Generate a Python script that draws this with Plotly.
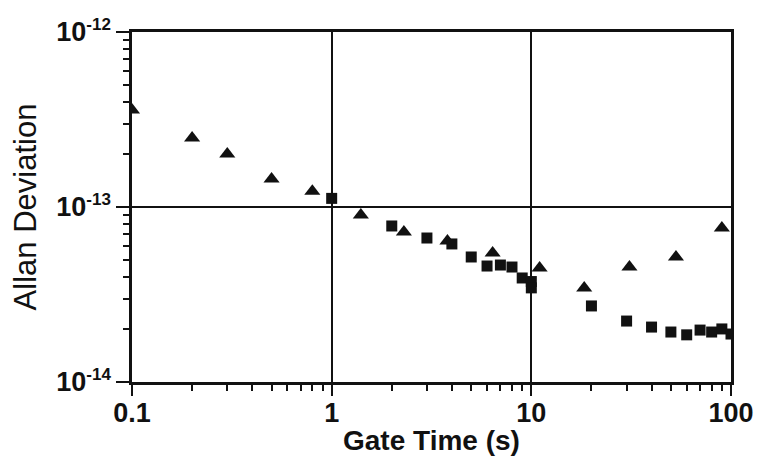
import plotly.graph_objects as go

# Triangle series
tri_x = [0.1, 0.2, 0.3, 0.5, 0.8, 1.4, 2.3, 3.8, 6.4, 11, 18.4, 31, 53, 90]
tri_y = [3.58e-13, 2.48e-13, 2.01e-13, 1.445e-13, 1.23e-13, 9.0e-14, 7.2e-14,
         6.4e-14, 5.46e-14, 4.48e-14, 3.44e-14, 4.54e-14, 5.18e-14, 7.59e-14]

# Square series
sq_x = [1, 2, 3, 4, 5, 6, 7, 8, 9, 10, 10, 20, 30, 40, 50, 60, 70, 80, 90, 100]
sq_y = [1.12e-13, 7.79e-14, 6.65e-14, 6.15e-14, 5.18e-14, 4.6e-14, 4.66e-14,
        4.54e-14, 3.93e-14, 3.75e-14, 3.45e-14, 2.72e-14, 2.23e-14, 2.06e-14,
        1.93e-14, 1.86e-14, 1.98e-14, 1.93e-14, 2.01e-14, 1.88e-14]

x_tickvals = [0.1, 1, 10, 100]
x_ticktext = ["0.1", "1", "10", "100"]
y_tickvals = [1e-14, 1e-13, 1e-12]
y_exponents = ["-14", "-13", "-12"]
y_ticktext = ["10<sup><span style='font-size:17px'>%s</span></sup>" % e for e in y_exponents]

x_minor = [m * 10 ** d for d in (-1, 0, 1) for m in range(2, 10)]
y_minor = [m * 10.0 ** d for d in (-14, -13) for m in range(2, 10)]

INK = "#111111"
fig = go.Figure()
fig.add_trace(go.Scatter(x=tri_x, y=tri_y, mode="markers",
                         marker=dict(symbol="triangle-up", size=14, color=INK),
                         showlegend=False))
fig.add_trace(go.Scatter(x=sq_x, y=sq_y, mode="markers",
                         marker=dict(symbol="square", size=11, color=INK),
                         showlegend=False))

W, H = 757, 457
ML, MR, MT, MB = 132, 26, 32, 75
plot_h = H - MT - MB

tickfont = dict(size=27, family="Liberation Sans, Arial", weight="bold", color=INK)
fig.update_layout(
    width=W, height=H,
    margin=dict(l=ML, r=MR, t=MT, b=MB),
    paper_bgcolor="white", plot_bgcolor="white",
    font=dict(family="Liberation Sans, Arial, sans-serif", color=INK),
    xaxis=dict(
        type="log", range=[-1, 2], automargin=False,
        tickvals=x_tickvals, ticktext=x_ticktext, tickfont=tickfont,
        ticks="outside", ticklen=11, tickwidth=2, tickcolor=INK,
        ticklabelstandoff=-6, ticklabeloverflow="allow",
        showline=True, linecolor=INK, linewidth=2.5, mirror=True,
        showgrid=True, gridcolor=INK, gridwidth=2,
        zeroline=False,
        minor=dict(tickvals=x_minor, ticks="outside", ticklen=6, tickwidth=1.5,
                   tickcolor=INK, showgrid=False),
    ),
    yaxis=dict(
        type="log", range=[-14, -12], automargin=False,
        tickvals=y_tickvals, ticktext=y_ticktext, tickfont=tickfont,
        ticks="outside", ticklen=13, tickwidth=2, tickcolor=INK,
        showline=True, linecolor=INK, linewidth=2.5, mirror=True,
        showgrid=True, gridcolor=INK, gridwidth=2,
        zeroline=False,
        minor=dict(tickvals=y_minor, ticks="outside", ticklen=6, tickwidth=1.5,
                   tickcolor=INK, showgrid=False),
        title=dict(text="Allan Deviation", standoff=11,
                   font=dict(size=31, family="Liberation Sans, Arial")),
    ),
    annotations=[dict(
        text="Gate Time (s)", xref="paper", yref="paper",
        x=0.5, y=-(76 / plot_h), xanchor="center", yanchor="bottom",
        showarrow=False,
        font=dict(size=28, family="Liberation Sans, Arial", weight="bold", color=INK),
    )],
)

fig.write_html("out.html",
               config={"displayModeBar": False},
               post_script="document.body.style.margin='0';document.body.style.overflow='hidden';")
